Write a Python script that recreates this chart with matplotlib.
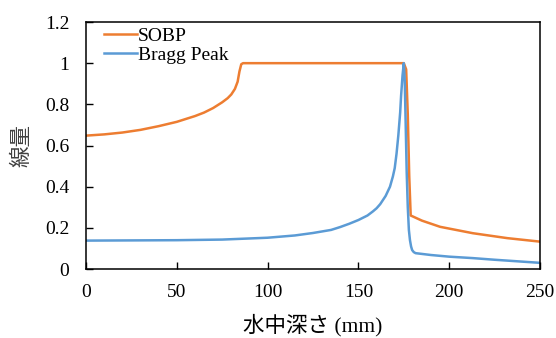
import numpy as np
import matplotlib.pyplot as plt

# data
sobp_depth = [0, 10, 20, 30, 40, 50, 60, 65, 70, 75, 78, 80, 82, 83.5, 84.5, 85.5, 86.5,
              175, 176.3, 177.2, 178, 178.8, 185, 195, 213, 232, 250]
sobp_dose = [0.648, 0.654, 0.663, 0.676, 0.694, 0.715, 0.743, 0.76, 0.782, 0.81, 0.83, 0.848, 0.875, 0.91, 0.96, 0.995, 1.0,
             1.0, 0.97, 0.75, 0.45, 0.26, 0.235, 0.205, 0.174, 0.15, 0.133]

bragg_depth = [0, 25, 50, 75, 100, 115, 125, 135, 140, 145, 150, 155, 158, 160, 162, 165, 167.4, 169, 170, 171, 172, 173, 173.5, 174.3, 175,
               175.5, 176, 176.6, 177.2, 177.8, 178.4, 179, 179.6, 180.5, 181.5, 190, 200, 213, 225, 240, 250]
bragg_dose = [0.138, 0.139, 0.140, 0.143, 0.152, 0.163, 0.175, 0.19, 0.204, 0.22, 0.238, 0.26, 0.28, 0.295, 0.315, 0.355, 0.40, 0.45, 0.49, 0.56, 0.65, 0.76, 0.84, 0.94, 1.0,
              0.92, 0.72, 0.47, 0.3, 0.19, 0.14, 0.11, 0.092, 0.082, 0.077, 0.068, 0.06, 0.053, 0.045, 0.036, 0.03]

xticks = [0, 50, 100, 150, 200, 250]
yticks = [0, 0.2, 0.4, 0.6, 0.8, 1.0, 1.2]
ytick_labels = ['0', '0.2', '0.4', '0.6', '0.8', '1', '1.2']

plt.rcParams['font.family'] = ['Liberation Serif', 'Noto Sans CJK JP']

fig = plt.figure(figsize=(5.56, 3.38), dpi=100)
ax = fig.add_axes([0.1547, 0.2041, 0.8165, 0.7308])

ax.plot(sobp_depth, sobp_dose, color='#ED7D31', lw=1.8, label='SOBP')
ax.plot(bragg_depth, bragg_dose, color='#5B9BD5', lw=1.8, label='Bragg Peak')

ax.set_xlim(0, 250)
ax.set_ylim(0, 1.2)
ax.set_xticks(xticks)
ax.set_yticks(yticks)
ax.set_yticklabels(ytick_labels)
ax.tick_params(direction='in', labelsize=14, length=5, width=1)
ax.tick_params(axis='y', pad=12)
ax.tick_params(axis='x', pad=11)
for s in ax.spines.values():
    s.set_linewidth(1.1)

ax.set_xlabel('水中深さ (mm)', fontsize=15.5, labelpad=9)
ax.set_ylabel('線量', fontsize=15.5, labelpad=9, color='#404040')

ax.legend(loc='upper left', bbox_to_anchor=(0.013, 1.025), frameon=False, fontsize=14,
          handlelength=1.7, handletextpad=0.05, labelspacing=0.08, borderaxespad=0.2)

fig.savefig('out.png', dpi=100)
